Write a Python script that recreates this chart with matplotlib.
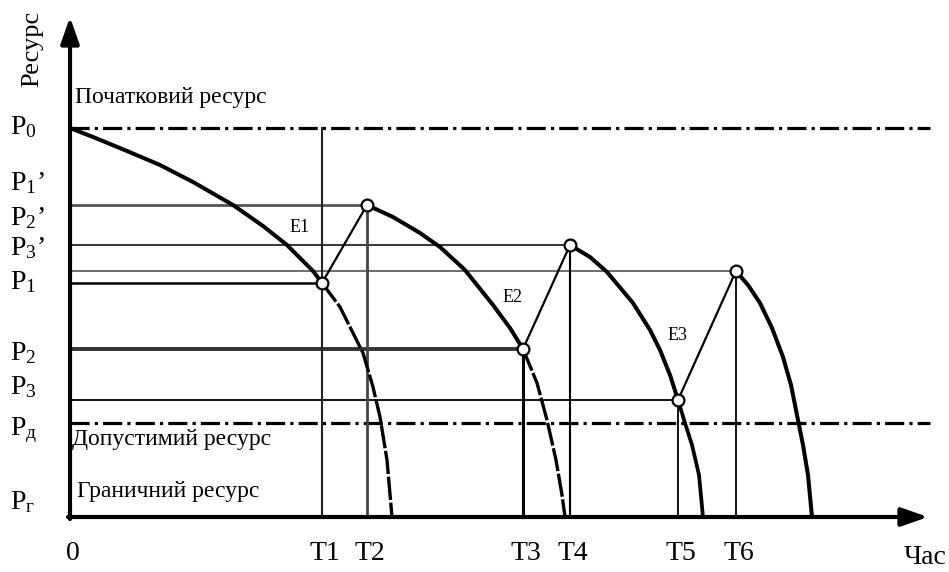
import matplotlib.pyplot as plt

plt.rcParams["font.family"] = ["Liberation Serif", "DejaVu Serif"]
plt.rcParams["mathtext.fontset"] = "custom"
plt.rcParams["mathtext.rm"] = "Liberation Serif"
plt.rcParams["mathtext.it"] = "Liberation Serif:italic"
plt.rcParams["mathtext.default"] = "regular"

# resource levels (chart units, 0 = граничний ресурс)
P0 = 389
P1_r, P2_r, P3_r = 312, 272, 246      # P1', P2', P3' - after restoration
P1, P2, P3 = 234, 168, 117
Pd = 94
Pg = 0

# time moments
T1, T2, T3, T4, T5, T6 = 252, 297, 453, 500, 608, 666
t_ticks = [0, T1, T2, T3, T4, T5, T6]
t_labels = ["0", "T1", "T2", "T3", "T4", "T5", "T6"]

# degradation curves
c1_t = [0, 23, 57, 90, 123, 163, 193, 217, 243, 252]
c1_r = [389, 380, 366, 352, 335, 312, 291, 272, 246, 234]
c1_tail_t = [252, 270, 283, 293, 303, 310, 317, 322]
c1_tail_r = [234, 210, 184, 164, 130, 100, 57, 0]

c2_t = [297, 323, 350, 370, 395, 423, 440, 453]
c2_r = [312, 300, 284, 270, 247, 212, 189, 168]
c2_tail_t = [453, 467, 477, 486, 492, 495]
c2_tail_r = [168, 134, 97, 57, 22, 0]

c3_t = [500, 520, 537, 563, 580, 590, 600, 608]
c3_r = [272, 260, 245, 214, 187, 167, 142, 117]
c3_tail_t = [608, 615, 622, 629, 633]
c3_tail_r = [117, 94, 72, 42, 0]

c4_t = [666, 678, 690, 702, 713, 721, 727, 733, 738, 742]
c4_r = [246, 232, 214, 189, 160, 132, 102, 72, 42, 0]

# points of maintenance: (failure point) -> (restored point)
fail_t = [T1, T3, T5]
fail_r = [P1, P2, P3]
rest_t = [T2, T4, T6]
rest_r = [P1_r, P2_r, P3_r]
e_labels = ["E1", "E2", "E3"]

level_labels = ["P$_0$", "P$_1$’", "P$_2$’", "P$_3$’", "P$_1$", "P$_2$", "P$_3$", "P$_д$", "P$_г$"]

fig = plt.figure(figsize=(9.49, 5.72), dpi=100)
ax = fig.add_axes([0, 0, 1, 1])
ax.set_xlim(-70, 879)
ax.set_ylim(-55, 517)
ax.axis("off")

x_end = 860
# dash-dot limits
ax.plot([0, x_end], [P0, P0], color="black", lw=2.3, dashes=(6, 1.6, 1, 1.6))
ax.plot([0, x_end], [Pd, Pd], color="black", lw=2.3, dashes=(6, 1.6, 1, 1.6))

# horizontal level lines
ax.plot([0, T2], [P1_r, P1_r], color="#555555", lw=2.0)
ax.plot([0, T4], [P2_r, P2_r], color="black", lw=1.1)
ax.plot([0, T6], [P3_r, P3_r], color="#444444", lw=1.1)
ax.plot([0, T1], [P1, P1], color="black", lw=1.8)
ax.plot([0, T3], [P2, P2], color="#333333", lw=2.8)
ax.plot([0, T5], [P3, P3], color="black", lw=1.3)

# vertical time lines
ax.plot([T1, T1], [0, P0], color="#222222", lw=1.5)
ax.plot([T2, T2], [0, P1_r], color="#444444", lw=2.0)
ax.plot([T3, T3], [0, P2], color="black", lw=2.2)
ax.plot([T4, T4], [0, P2_r], color="black", lw=1.5)
ax.plot([T5, T5], [0, P3], color="black", lw=1.3)
ax.plot([T6, T6], [0, P3_r], color="black", lw=1.3)

# resource curves
for t, r in [(c1_t, c1_r), (c2_t, c2_r), (c3_t, c3_r), (c4_t, c4_r)]:
    ax.plot(t, r, color="black", lw=2.9, solid_capstyle="round",
            solid_joinstyle="round")
for t, r in [(c1_tail_t, c1_tail_r), (c2_tail_t, c2_tail_r)]:
    ax.plot(t, r, color="black", lw=2.4, dashes=(7, 0.8))
ax.plot(c3_tail_t, c3_tail_r, color="black", lw=2.7, solid_joinstyle="round")

# restoration jumps
for ft, fr, rt, rr in zip(fail_t, fail_r, rest_t, rest_r):
    ax.plot([ft, rt], [fr, rr], color="black", lw=1.6)
ax.plot(fail_t + rest_t, fail_r + rest_r, "o", ms=8.5, mfc="white", mec="black",
        mew=1.6, zorder=5)

# E labels
e_pos = [(230, 289), (443, 220), (608, 182)]
for (x, y), s in zip(e_pos, e_labels):
    ax.text(x, y, s, fontsize=13, ha="center", va="center")

# axes with arrows
ax.annotate("", xy=(0, 500), xytext=(0, -2),
            arrowprops=dict(arrowstyle="-|>,head_length=0.8,head_width=0.28",
                            lw=3, color="black", shrinkA=0, shrinkB=0,
                            mutation_scale=20))
ax.annotate("", xy=(858, 0), xytext=(-2, 0),
            arrowprops=dict(arrowstyle="-|>,head_length=0.8,head_width=0.28",
                            lw=3, color="black", shrinkA=0, shrinkB=0,
                            mutation_scale=20))

# level labels
label_y = [390, 334, 299, 269, 235, 164, 130, 87, 15]
for y, s in zip(label_y, level_labels):
    ax.text(-60, y, s, fontsize=20, ha="left", va="center")

# time labels
for t, s in zip(t_ticks, t_labels):
    ax.text(t + 3, -36, s, fontsize=20, ha="center", va="center")
ax.text(855, -40, "Час", fontsize=20, ha="center", va="center")

ax.text(-38, 468, "Ресурс", fontsize=19, rotation=90, ha="center", va="center")
ax.text(5, 420, "Початковий ресурс", fontsize=17, ha="left", va="center")
ax.text(2, 77, "Допустимий ресурс", fontsize=17, ha="left", va="center")
ax.text(7, 25, "Граничний ресурс", fontsize=17, ha="left", va="center")

fig.savefig("out.png", dpi=100)
